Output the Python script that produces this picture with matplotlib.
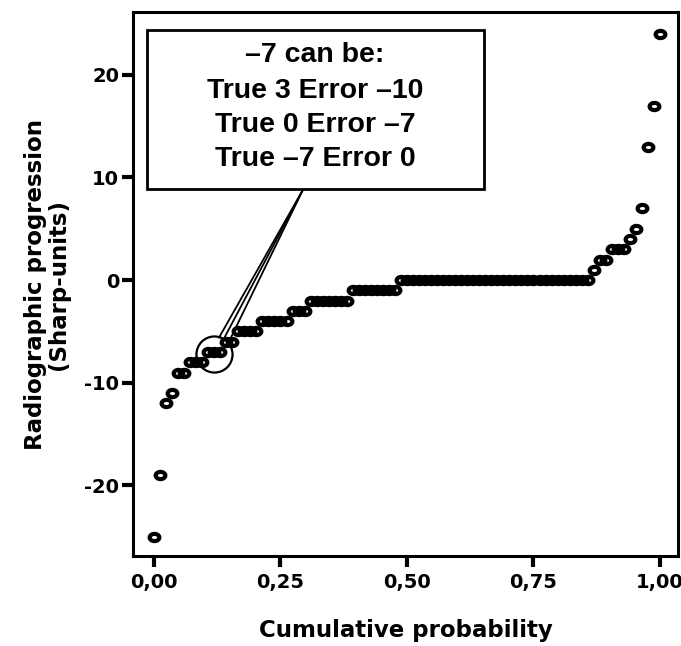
import numpy as np
import matplotlib
matplotlib.use("Agg")
import matplotlib.pyplot as plt
from matplotlib.path import Path
from matplotlib.patches import Rectangle

# radiographic progression scores (Sharp units) and how many patients had each
values = [-25, -19, -12, -11, -9, -8, -7, -6, -5, -4, -3, -2, -1, 0,
          1, 2, 3, 4, 5, 7, 13, 17, 24]
counts = [1, 1, 1, 1, 2, 3, 3, 2, 4, 5, 3, 7, 8, 32,
          1, 2, 3, 1, 1, 1, 1, 1, 1]

xticks = [0.0, 0.25, 0.5, 0.75, 1.0]
xticklabels = ["0,00", "0,25", "0,50", "0,75", "1,00"]
yticks = [-20, -10, 0, 10, 20]

box_lines = ["\u20137 can be:", "True 3 Error \u201310",
             "True 0 Error \u20137", "True \u20137 Error 0"]

plt.rcParams["font.family"] = "DejaVu Sans"
plt.rcParams["font.weight"] = "bold"
plt.rcParams["axes.unicode_minus"] = False

# sorted scores and their cumulative probability
y = np.repeat(values, counts)
x = np.linspace(0, 1, len(y))

# slightly flattened open circle, like in the scanned figure
circ = Path.unit_circle()
ellipse = Path(circ.vertices * [1.35, 1.0], circ.codes)

fig = plt.figure(figsize=(6.81, 6.46), dpi=100)
ax = fig.add_axes([0.1953, 0.1393, 0.8003, 0.842])

ax.plot(x, y, linestyle="none", marker=ellipse, markersize=7.0,
        markerfacecolor="none", markeredgecolor="black", markeredgewidth=3.0,
        zorder=2)

ax.set_xlim(-0.0415, 1.0356)
ax.set_ylim(-26.87, 26.1)
ax.set_xticks(xticks)
ax.set_xticklabels(xticklabels)
ax.set_yticks(yticks)
ax.tick_params(direction="out", length=8, width=3, labelsize=14, color="black")
ax.tick_params(axis="x", pad=4)
ax.tick_params(axis="y", pad=2)
for sp in ax.spines.values():
    sp.set_linewidth(2.2)

ax.set_xlabel("Cumulative probability", fontsize=16.5, fontweight="bold")
ax.xaxis.set_label_coords(0.5, -0.115)
ax.set_ylabel("Radiographic progression\n(Sharp-units)", fontsize=16.5,
              fontweight="bold", linespacing=1.0)
ax.yaxis.set_label_coords(-0.115, 0.5)

# circle around the -7 group and pointer lines to the text box
ax.plot([0.119], [-7.2], linestyle="none", marker="o", markersize=26,
        markerfacecolor="none", markeredgecolor="black", markeredgewidth=1.6,
        zorder=3)
for ex, ey in [(0.1285, -5.6), (0.1403, -5.5), (0.152, -5.6)]:
    ax.plot([0.2945, ex], [8.81, ey], color="black", lw=1.3, zorder=3)

ax.add_patch(Rectangle((0.0257, 0.675), 0.618, 0.292, transform=ax.transAxes,
                       facecolor="white", edgecolor="black", lw=2, zorder=4))
for txt, ty in zip(box_lines, [0.921, 0.855, 0.792, 0.730]):
    ax.text(0.334, ty, txt, transform=ax.transAxes, ha="center", va="center",
            fontsize=20.5, fontweight="bold", family="Liberation Sans", zorder=5)

fig.savefig("out.png", dpi=100)
